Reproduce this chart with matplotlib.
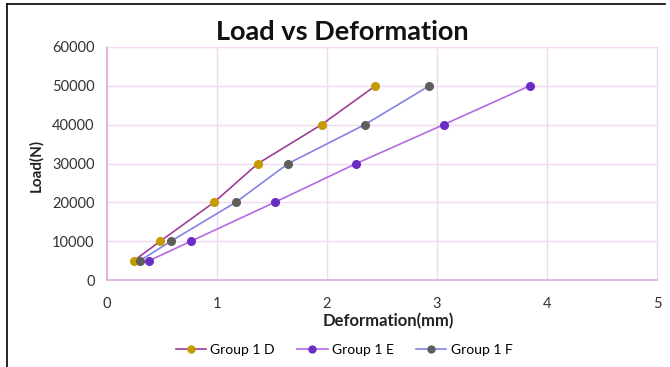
import matplotlib
matplotlib.use("Agg")
import matplotlib.pyplot as plt
from matplotlib.lines import Line2D

plt.rcParams['font.family'] = ['Lato', 'DejaVu Sans']

load = [5000, 10000, 20000, 30000, 40000, 50000]
def_d = [0.245, 0.485, 0.973, 1.373, 1.95, 2.44]
def_e = [0.385, 0.764, 1.524, 2.267, 3.06, 3.843]
def_f = [0.30, 0.582, 1.17, 1.648, 2.343, 2.93]
series_names = ["Group 1 D", "Group 1 E", "Group 1 F"]
x_ticks = [0, 1, 2, 3, 4, 5]
y_ticks = [0, 10000, 20000, 30000, 40000, 50000, 60000]

line_colors = ["#9E3D97", "#B36AE2", "#8383E6"]
marker_colors = ["#C49A00", "#6A2EC4", "#5E5E5E"]

fig = plt.figure(figsize=(6.7, 3.67), dpi=100)
ax = fig.add_axes([107/670, 1-280/367, 550/670, 233/367])

for xs, lc, mc, name in zip([def_d, def_e, def_f], line_colors, marker_colors, series_names):
    ax.plot(xs, load, color=lc, lw=1.2, marker='o', markersize=5.5,
            markerfacecolor=mc, markeredgecolor=mc, label=name, zorder=3)

ax.set_xlim(0, 5)
ax.set_ylim(0, 60000)
ax.set_xticks(x_ticks)
ax.set_yticks(y_ticks)
ax.set_xticklabels([str(v) for v in x_ticks])
ax.set_yticklabels([str(v) for v in y_ticks])
ax.tick_params(axis='both', length=0, labelsize=10.5, colors='#333333')
ax.tick_params(axis='x', pad=12)
ax.tick_params(axis='y', pad=9)
ax.grid(True, color='#F2D8F0', lw=1.0)
ax.set_axisbelow(True)
for s in ['top', 'right']:
    ax.spines[s].set_color('#F2D8F0')
for s in ['left', 'bottom']:
    ax.spines[s].set_color('#E2A8E0')
    ax.spines[s].set_linewidth(1.2)

fig.text(342/670, 1-32/367, "Load vs Deformation", ha='center', va='center',
         fontsize=19.5, fontweight='bold', color='#111111')
fig.text(388/670, 1-321/367, "Deformation(mm)", ha='center', va='center',
         fontsize=12, fontweight='bold', color='#222222')
fig.text(36/670, 1-165/367, "Load(N)", ha='center', va='center', rotation=90,
         fontsize=11, fontweight='bold', color='#222222')

handles = [Line2D([0], [0], color=lc, lw=1.2, marker='o', markersize=5,
                  markerfacecolor=mc, markeredgecolor=mc)
           for lc, mc in zip(line_colors, marker_colors)]
fig.legend(handles, series_names, loc='center', bbox_to_anchor=(344/670, 1-350/367),
           ncol=3, frameon=False, fontsize=10, handlelength=2.2, columnspacing=1.6,
           handletextpad=0.3)

# outer frame (left and top edges visible)
fig.add_artist(Line2D([7/670, 7/670], [0, 1-4/367], transform=fig.transFigure, color='black', lw=1.2))
fig.add_artist(Line2D([7/670, 665/670], [1-4/367, 1-4/367], transform=fig.transFigure, color='black', lw=1.2))

fig.savefig("out.png", dpi=100)
